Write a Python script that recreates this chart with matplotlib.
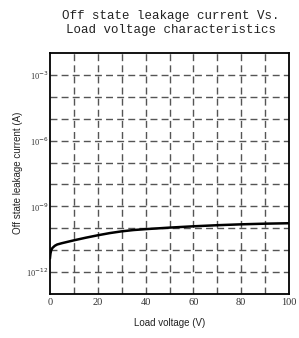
import matplotlib
matplotlib.use("Agg")
import matplotlib.pyplot as plt
import numpy as np

# Data
voltage = [0.0, 0.2, 0.5, 1, 2, 3, 5, 10, 15, 20, 25, 30, 35, 40, 50, 60, 70, 80, 90, 100]
log_current = [-11.35, -11.15, -11.0, -10.9, -10.8, -10.74, -10.68, -10.55, -10.43, -10.32,
               -10.22, -10.14, -10.08, -10.04, -9.97, -9.91, -9.86, -9.82, -9.79, -9.77]
current = [10.0 ** v for v in log_current]

xticks = [0, 20, 40, 60, 80, 100]
yticks = [1e-12, 1e-9, 1e-6, 1e-3]
ytick_labels = ["10$^{-12}$", "10$^{-9}$", "10$^{-6}$", "10$^{-3}$"]
title = "Off state leakage current Vs.\nLoad voltage characteristics"
xlabel = "Load voltage (V)"
ylabel = "Off state leakage current (A)"

fig = plt.figure(figsize=(2.99, 3.38), dpi=100)
ax = fig.add_axes([50/299, 1 - 294/338, 239/299, 241/338])

ax.plot(voltage, current, color="black", lw=1.8)
ax.set_yscale("log")
ax.set_xlim(0, 100)
ax.set_ylim(1e-13, 1e-2)

ax.set_xticks(xticks)
ax.set_xticklabels([str(t) for t in xticks], family="Liberation Serif", fontsize=7.5,
                   color="#333333")
ax.set_yticks(yticks)
ax.set_yticklabels(ytick_labels, family="Liberation Serif", fontsize=6,
                   color="#333333")
ax.minorticks_off()
ax.tick_params(axis="x", length=0, pad=3)
ax.tick_params(axis="y", length=0, pad=1)

for x in range(10, 100, 10):
    ax.axvline(x, color="#555555", lw=1.0, ls=(0, (5, 3)), zorder=0)
for e in range(-12, -2):
    ax.axhline(10.0 ** e, color="#555555", lw=1.0, ls=(0, (5, 3)), zorder=0)

for s in ax.spines.values():
    s.set_linewidth(1.3)
    s.set_color("black")

fig.text(171/299, 1 - 23/338, title, ha="center", va="center",
         family="Liberation Mono", fontsize=9, linespacing=1.2, color="#222222")
fig.text(170/299, 1 - 323/338, xlabel, ha="center", va="center",
         family="Liberation Sans", fontsize=7, color="#222222")
fig.text(18/299, 1 - 173/338, ylabel, ha="center", va="center", rotation=90,
         family="Liberation Sans", fontsize=7, color="#222222")

fig.savefig("out.png", dpi=100)
